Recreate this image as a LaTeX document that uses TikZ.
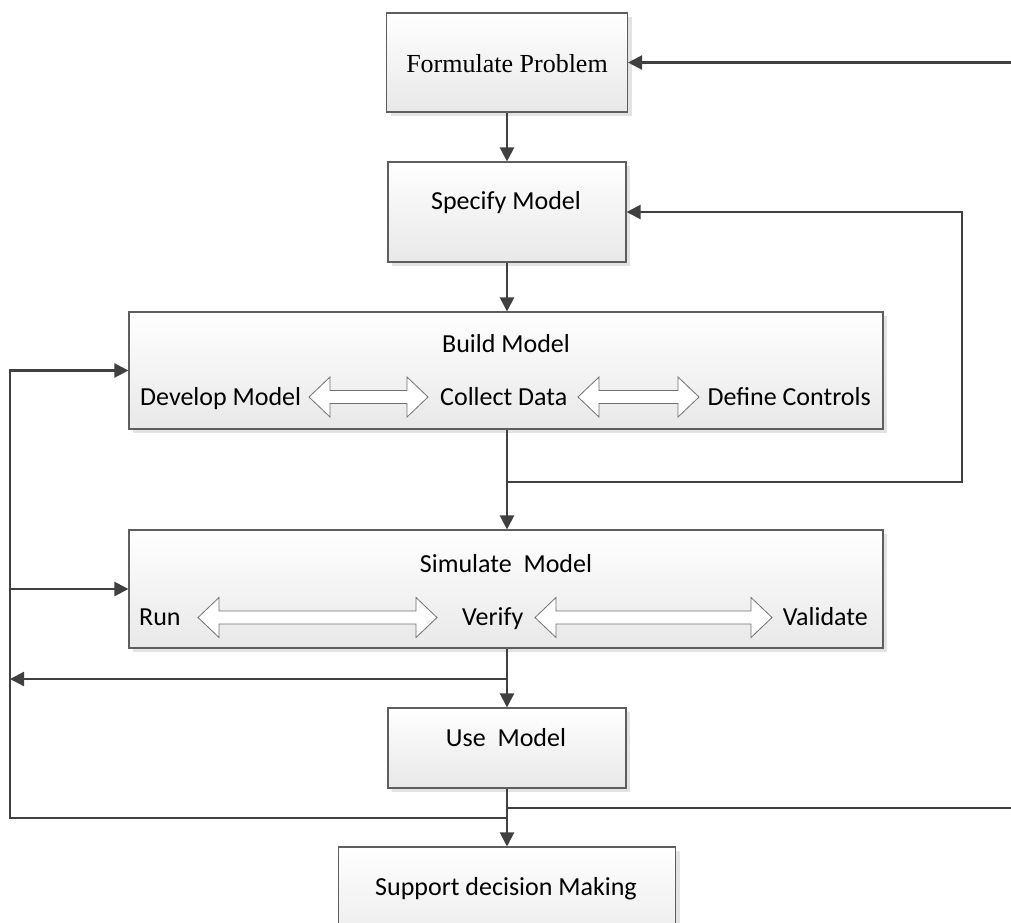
\documentclass[tikz,border=0pt]{standalone}
\usepackage{fontspec}
\setmainfont{Carlito}
\newfontfamily\serifface{Liberation Serif}
\usetikzlibrary{arrows.meta,shadows}
\definecolor{linegray}{HTML}{404040}
\definecolor{boxedge}{HTML}{5E5E5E}
\definecolor{arrowedge}{HTML}{707070}

% hollow two-headed arrow: #1 left tip x, #2 right tip x, #3 centre y
\newcommand\hollowarrow[3]{%
  \draw[draw=arrowedge, line width=0.8pt, fill=white, line join=miter]
    (#1,#3) -- ({#1+21},{#3-20}) -- ({#1+21},{#3-6.5}) -- ({#2-21},{#3-6.5})
    -- ({#2-21},{#3-20}) -- (#2,#3) -- ({#2-21},{#3+20}) -- ({#2-21},{#3+6.5})
    -- ({#1+21},{#3+6.5}) -- ({#1+21},{#3+20}) -- cycle;}

\begin{document}
\begin{tikzpicture}[x=1pt,y=-1pt,
  stage/.style={draw=boxedge, line width=1.1pt, top color=white, bottom color=black!9,
    general shadow={fill=black!11, shadow xshift=4pt, shadow yshift=-4pt},
    inner sep=0pt, rectangle},
  txt/.style={font=\fontsize{26}{31}\selectfont, inner sep=0pt, anchor=base},
  link/.style={draw=linegray, line width=2.2pt},
  flow/.style={link, -{Triangle[length=14pt,width=14pt]}},
]
\useasboundingbox (0,0) rectangle (1011,922);
\clip (0,0) rectangle (1011,922);

% process boxes
\node[stage, minimum width=241pt, minimum height=99pt]  (fp)  at (507,62.5) {};
\node[stage, minimum width=238pt, minimum height=100pt] (sm)  at (507,212) {};
\node[stage, minimum width=754pt, minimum height=117pt] (bm)  at (506,370.5) {};
\node[stage, minimum width=754pt, minimum height=118pt] (sim) at (506,589) {};
\node[stage, minimum width=238pt, minimum height=80pt]  (use) at (507,748) {};
\node[stage, minimum width=337pt, minimum height=110pt] (sup) at (507,902) {};

% box texts
\node[txt] (fp-t)  at (507,72)  {\serifface Formulate Problem};
\node[txt] (sm-t)  at (506,209) {Specify Model};
\node[txt] (bm-t)  at (506,352) {Build Model};
\node[txt, anchor=base west] (dev) at (140,405) {Develop Model};
\node[txt, anchor=base west] (col) at (440,405) {Collect Data};
\node[txt, anchor=base east] (ctl) at (871,405) {Define Controls};
\node[txt] (sim-t) at (506,572) {Simulate\ \ Model};
\node[txt, anchor=base west] (run) at (139,625) {Run};
\node[txt, anchor=base west] (ver) at (462,625) {Verify};
\node[txt, anchor=base east] (val) at (868,625) {Validate};
\node[txt] (use-t) at (506,746) {Use\ \ Model};
\node[txt] (sup-t) at (506,895) {Support decision Making};

% two-headed arrows between activities
\hollowarrow{309}{428}{397}
\hollowarrow{578}{699}{397}
\hollowarrow{198}{437}{617.5}
\hollowarrow{535}{772}{617.5}

% junction and free-end points
\coordinate (rin)  at (1011,62.5);
\coordinate (jb)   at (507,482);
\coordinate (rb)   at (962,482);
\coordinate (js)   at (507,679);
\coordinate (ls)   at (10,679);
\coordinate (ju)   at (507,808);
\coordinate (rout) at (1011,808);
\coordinate (jl)   at (507,818);
\coordinate (lb)   at (10,818);

% main flow
\draw[flow] (fp.south)  -- (sm.north);
\draw[flow] (sm.south)  -- (bm.north -| sm.south);
\draw[flow] (bm.south -| sm.south) -- (sim.north -| sm.south);
\draw[flow] (sim.south -| sm.south) -- (use.north);
\draw[flow] (use.south) -- (sup.north);

% feedback loops
\draw[flow] (rin) -- (fp.east);
\draw[flow] (jb) -- (rb) |- (sm.east);
\draw[flow] (js) -- (ls);
\draw[link] (ju) -- (rout);
\draw[flow] (jl) -- (lb) |- (bm.west);
\draw[flow] (lb |- sim.west) -- (sim.west);
\end{tikzpicture}
\end{document}
